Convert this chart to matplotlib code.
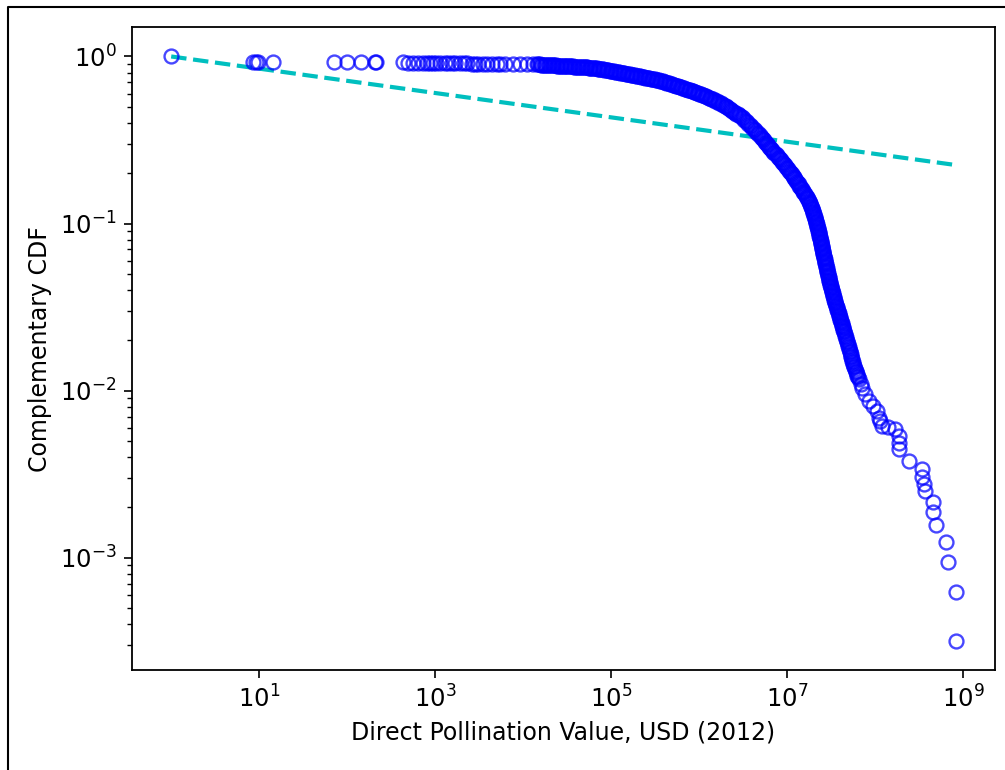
import matplotlib.pyplot as plt
from matplotlib.lines import Line2D
from matplotlib.ticker import NullLocator
import numpy as np

# CCDF of direct pollination value, stored as log10 exponents
# low end: the sparse points near the top of the plot
low_log_value = [0.0, 0.932, 0.966, 0.989, 1.159, 1.853, 2.001, 2.161, 2.320, 2.331,
                 2.638, 2.695, 2.752, 2.809, 2.866, 2.911, 2.945, 2.980, 3.014, 3.059,
                 3.116, 3.150, 3.196, 3.230, 3.287, 3.332, 3.366, 3.423, 3.457, 3.491,
                 3.548, 3.594, 3.651, 3.708, 3.742, 3.799, 3.890, 3.969, 4.049, 4.117,
                 4.163]
low_log_ccdf = [0.0, -0.0340, -0.0342, -0.0344, -0.0346, -0.0348, -0.0350, -0.0352, -0.0354, -0.0356,
                -0.0360, -0.0364, -0.0367, -0.0371, -0.0375, -0.0378, -0.0382, -0.0386, -0.0389, -0.0393,
                -0.0397, -0.0400, -0.0404, -0.0408, -0.0411, -0.0415, -0.0419, -0.0422, -0.0426, -0.0430,
                -0.0433, -0.0437, -0.0441, -0.0444, -0.0448, -0.0452, -0.0455, -0.0459, -0.0463, -0.0466,
                -0.0470]

# shoulder of the distribution
body_log_value = [
    4.175, 4.190, 4.205, 4.220, 4.235, 4.250, 4.265, 4.280, 4.295, 4.310, 4.325, 4.340, 4.355, 4.370, 4.385, 4.400,
    4.415, 4.430, 4.445, 4.460, 4.475, 4.490, 4.505, 4.520, 4.535, 4.550, 4.565, 4.580, 4.595, 4.610, 4.625, 4.640,
    4.655, 4.670, 4.685, 4.700, 4.715, 4.730, 4.745, 4.760, 4.775, 4.790, 4.805, 4.820, 4.835, 4.850, 4.865, 4.880,
    4.895, 4.910, 4.925, 4.940, 4.955, 4.970, 4.985, 5.000, 5.015, 5.030, 5.045, 5.060, 5.075, 5.090, 5.105, 5.120,
    5.135, 5.150, 5.165, 5.180, 5.195,
    5.210, 5.225, 5.240, 5.255, 5.270, 5.285, 5.300, 5.315, 5.330, 5.345, 5.360, 5.375, 5.390, 5.405, 5.420, 5.435,
    5.450, 5.465, 5.480, 5.495, 5.510, 5.525, 5.540, 5.555,
    5.570, 5.585, 5.600, 5.615, 5.630, 5.645, 5.660, 5.675, 5.690, 5.705, 5.720, 5.735, 5.750, 5.765, 5.780, 5.795,
    5.810, 5.825, 5.840, 5.855, 5.870, 5.885, 5.900, 5.915, 5.930, 5.945,
    5.960, 5.975, 5.990, 6.005, 6.020, 6.035, 6.050, 6.065, 6.080, 6.095, 6.110, 6.125, 6.140, 6.155, 6.170, 6.185,
    6.200, 6.215, 6.230, 6.245, 6.260, 6.275, 6.290, 6.305,
    6.320, 6.335, 6.350, 6.365, 6.380, 6.395, 6.410, 6.425, 6.440, 6.455, 6.470, 6.485, 6.500, 6.515, 6.530, 6.545,
    6.560, 6.575, 6.590, 6.605, 6.620, 6.635, 6.650, 6.665]
body_log_ccdf = [
    -0.0475, -0.0480, -0.0485, -0.0490, -0.0495, -0.0500, -0.0505, -0.0510, -0.0515, -0.0520, -0.0525, -0.0530, -0.0535, -0.0540, -0.0545, -0.0550,
    -0.0553, -0.0557, -0.0562, -0.0566, -0.0571, -0.0575, -0.0580, -0.0584, -0.0589, -0.0593, -0.0598, -0.0602, -0.0607, -0.0611, -0.0616, -0.0620,
    -0.0626, -0.0632, -0.0638, -0.0645, -0.0652, -0.0659, -0.0666, -0.0673, -0.0680, -0.0688, -0.0696, -0.0704, -0.0712, -0.0720, -0.0730, -0.0740,
    -0.0755, -0.0770, -0.0785, -0.0800, -0.0815, -0.0830, -0.0845, -0.0860, -0.0875, -0.0890, -0.0905, -0.0920, -0.0935, -0.0950, -0.0965, -0.0980,
    -0.0995, -0.1010, -0.1025, -0.1040, -0.1055,
    -0.1070, -0.1085, -0.1100, -0.1115, -0.1130, -0.1145, -0.1160, -0.1178, -0.1195, -0.1213, -0.1230, -0.1245, -0.1260, -0.1275, -0.1290, -0.1305,
    -0.1320, -0.1335, -0.1350, -0.1370, -0.1390, -0.1405, -0.1420, -0.1440,
    -0.1460, -0.1485, -0.1510, -0.1535, -0.1560, -0.1585, -0.1610, -0.1635, -0.1660, -0.1690, -0.1720, -0.1745, -0.1770, -0.1795, -0.1820, -0.1845,
    -0.1870, -0.1900, -0.1930, -0.1955, -0.1980, -0.2005, -0.2030, -0.2055, -0.2080, -0.2110,
    -0.2140, -0.2170, -0.2200, -0.2235, -0.2270, -0.2300, -0.2330, -0.2360, -0.2390, -0.2425, -0.2460, -0.2495, -0.2530, -0.2570, -0.2610, -0.2650,
    -0.2690, -0.2730, -0.2770, -0.2810, -0.2850, -0.2895, -0.2940, -0.2980,
    -0.3020, -0.3075, -0.3130, -0.3190, -0.3250, -0.3305, -0.3360, -0.3415, -0.3470, -0.3530, -0.3590, -0.3645, -0.3700, -0.3780, -0.3860, -0.3940,
    -0.4020, -0.4100, -0.4180, -0.4260, -0.4340, -0.4420, -0.4500, -0.4580]

# steep drop
steep_log_value = [
    6.676, 6.688, 6.700, 6.712, 6.725, 6.737, 6.749, 6.761, 6.773, 6.785,
    6.798, 6.810, 6.822, 6.834, 6.846, 6.858, 6.870, 6.882, 6.894, 6.906,
    6.918, 6.930, 6.942, 6.954, 6.966, 6.978, 6.990, 7.002, 7.014, 7.026,
    7.038, 7.048, 7.057, 7.066, 7.076, 7.085, 7.094, 7.103, 7.113, 7.122,
    7.131, 7.140, 7.150, 7.159, 7.168, 7.177, 7.187, 7.196, 7.205, 7.214,
    7.224, 7.233, 7.242, 7.248, 7.255, 7.260, 7.266, 7.271, 7.277, 7.282,
    7.287, 7.292, 7.297, 7.301, 7.306, 7.310, 7.315, 7.319, 7.323, 7.327,
    7.331, 7.335, 7.339, 7.342, 7.346, 7.350, 7.353, 7.356, 7.360, 7.363,
    7.366, 7.369, 7.372, 7.375, 7.378, 7.381, 7.384, 7.387, 7.390, 7.393,
    7.396, 7.399, 7.402, 7.405, 7.408, 7.411, 7.414, 7.417, 7.421, 7.424,
    7.428, 7.431, 7.434, 7.437, 7.441, 7.444, 7.447, 7.450, 7.454, 7.457,
    7.460, 7.463, 7.467, 7.470, 7.473, 7.476, 7.480, 7.483, 7.486, 7.490,
    7.493, 7.496, 7.500, 7.503, 7.507, 7.510, 7.514, 7.518, 7.522, 7.526,
    7.530, 7.534, 7.538, 7.542, 7.546, 7.550, 7.555, 7.559, 7.564, 7.568,
    7.573, 7.577, 7.582, 7.586, 7.591, 7.595, 7.599, 7.603, 7.608, 7.612,
    7.616, 7.620, 7.625, 7.629, 7.633, 7.637, 7.642, 7.646, 7.650,
    7.656, 7.661, 7.667, 7.672, 7.678, 7.683, 7.689, 7.694, 7.700, 7.705,
    7.711, 7.716, 7.722, 7.727, 7.733, 7.738, 7.744, 7.749, 7.755, 7.760,
    7.767, 7.773, 7.780, 7.786, 7.793, 7.799, 7.806, 7.813]
steep_log_ccdf = [
    -0.4650, -0.4725, -0.4800, -0.4875, -0.4950, -0.5025, -0.5100, -0.5175, -0.5250, -0.5325,
    -0.5400, -0.5475, -0.5550, -0.5625, -0.5700, -0.5775, -0.5850, -0.5925, -0.6000, -0.6075,
    -0.6150, -0.6225, -0.6300, -0.6375, -0.6450, -0.6525, -0.6600, -0.6675, -0.6750, -0.6825,
    -0.6900, -0.6975, -0.7050, -0.7125, -0.7200, -0.7275, -0.7350, -0.7425, -0.7500, -0.7575,
    -0.7650, -0.7725, -0.7800, -0.7875, -0.7950, -0.8025, -0.8100, -0.8175, -0.8250, -0.8325,
    -0.8400, -0.8475, -0.8550, -0.8625, -0.8700, -0.8775, -0.8850, -0.8925, -0.9000, -0.9075,
    -0.9150, -0.9225, -0.9300, -0.9375, -0.9450, -0.9525, -0.9600, -0.9675, -0.9750, -0.9825,
    -0.9900, -0.9975, -1.0050, -1.0125, -1.0200, -1.0275, -1.0350, -1.0425, -1.0500, -1.0575,
    -1.0650, -1.0725, -1.0800, -1.0875, -1.0950, -1.1025, -1.1100, -1.1175, -1.1250, -1.1325,
    -1.1400, -1.1475, -1.1550, -1.1625, -1.1700, -1.1775, -1.1850, -1.1925, -1.2000, -1.2075,
    -1.2150, -1.2225, -1.2300, -1.2375, -1.2450, -1.2525, -1.2600, -1.2675, -1.2750, -1.2825,
    -1.2900, -1.2975, -1.3050, -1.3125, -1.3200, -1.3275, -1.3350, -1.3425, -1.3500, -1.3575,
    -1.3650, -1.3725, -1.3800, -1.3875, -1.3950, -1.4025, -1.4100, -1.4175, -1.4250, -1.4325,
    -1.4400, -1.4475, -1.4550, -1.4625, -1.4700, -1.4775, -1.4850, -1.4925, -1.5000, -1.5075,
    -1.5150, -1.5225, -1.5300, -1.5375, -1.5450, -1.5525, -1.5600, -1.5675, -1.5750, -1.5825,
    -1.5900, -1.5975, -1.6050, -1.6125, -1.6200, -1.6275, -1.6350, -1.6425, -1.6500,
    -1.660, -1.670, -1.680, -1.690, -1.700, -1.710, -1.720, -1.730, -1.740, -1.750,
    -1.760, -1.770, -1.780, -1.790, -1.800, -1.810, -1.820, -1.830, -1.840, -1.850,
    -1.860, -1.870, -1.880, -1.890, -1.900, -1.910, -1.920, -1.930]

# largest values
tail_log_value = [7.837, 7.850, 7.883, 7.928, 7.974, 8.019, 8.042, 8.053, 8.076, 8.150,
                  8.224, 8.270, 8.270, 8.270, 8.383, 8.531, 8.531, 8.554, 8.565, 8.656,
                  8.656, 8.690, 8.804, 8.827, 8.918, 8.918]
tail_log_ccdf = [-1.960, -1.984, -2.021, -2.062, -2.092, -2.122, -2.164, -2.182, -2.212, -2.220,
                 -2.230, -2.272, -2.314, -2.350, -2.422, -2.470, -2.518, -2.560, -2.602, -2.668,
                 -2.728, -2.806, -2.908, -3.028, -3.203, -3.497]

# power-law fit drawn as a dashed line
fit_value = [1.0, 8.28e8]
fit_ccdf = [1.0, 0.224]

xtick_values = [1e1, 1e3, 1e5, 1e7, 1e9]


def main():
    pairs = [(low_log_value, low_log_ccdf), (body_log_value, body_log_ccdf),
             (steep_log_value, steep_log_ccdf), (tail_log_value, tail_log_ccdf)]
    for xs, ys in pairs:
        assert len(xs) == len(ys)
    value = 10 ** np.concatenate([p[0] for p in pairs])
    ccdf = 10 ** np.concatenate([p[1] for p in pairs])

    fig = plt.figure(figsize=(10.05, 7.7), dpi=100)
    ax = fig.add_axes([0.1313, 0.1299, 0.8587, 0.8347])

    ax.plot(fit_value, fit_ccdf, 'c--', lw=3)
    ax.plot(value, ccdf, 'o', mfc='none', mec='b', ms=10, mew=1.7, alpha=0.72)

    ax.set_xscale('log')
    ax.set_yscale('log')
    ax.set_xticks(xtick_values)
    ax.xaxis.set_minor_locator(NullLocator())

    for side in ax.spines.values():
        side.set_linewidth(1.3)
    ax.tick_params(which='major', length=6, width=1.2, labelsize=17.5, pad=5)
    ax.tick_params(which='minor', length=3.5, width=1.0)

    ax.set_xlabel('Direct Pollination Value, USD (2012)', fontsize=17, labelpad=6)
    ax.set_ylabel('Complementary CDF', fontsize=17, labelpad=6)

    # black border on the left and top edges of the figure
    left = 8 / 1005
    top = 1 - 7 / 770
    fig.add_artist(Line2D([left, left, 1.0], [0.0, top, top],
                          transform=fig.transFigure, lw=1.5, color='k'))

    plt.savefig('out.png', dpi=100)
    plt.close()


if __name__ == '__main__':
    main()
